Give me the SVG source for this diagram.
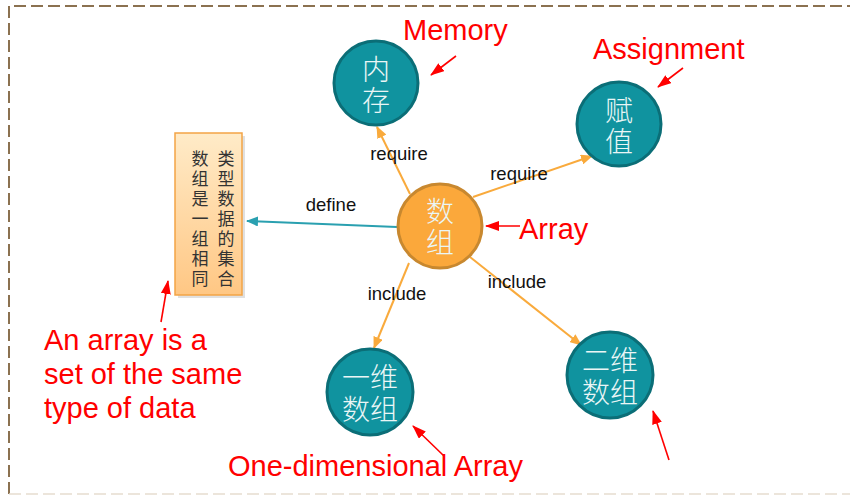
<svg xmlns="http://www.w3.org/2000/svg" width="850" height="497" viewBox="0 0 850 497">
<style>
.teal{fill:#10939F;stroke:#0B6E77;stroke-width:3}
.orange{fill:#FBA83B;stroke:#C8882F;stroke-width:3}
.cn{font-family:"Noto Sans CJK SC",sans-serif;font-size:28px;fill:#EAF6F6;text-anchor:middle;font-weight:300}
.rt{font-family:"Noto Sans CJK SC",sans-serif;font-size:17px;fill:#333;text-anchor:middle}
.lbl{font-family:"Liberation Sans",Arial,sans-serif;font-size:18.5px;fill:#111;text-anchor:middle}
.ann{font-family:"Liberation Sans",Arial,sans-serif;font-size:29px;fill:#FF0000}
.oc{stroke:#F9AA3C;stroke-width:2;fill:none}
.tc{stroke:#2AA0B0;stroke-width:2;fill:none}
.rc{stroke:#FF0000;stroke-width:1.6;fill:none}
</style>
<defs>
<marker id="ao" viewBox="0 0 12 10" refX="11" refY="5" markerWidth="12" markerHeight="10" markerUnits="userSpaceOnUse" orient="auto"><path d="M0,0L12,5L0,10z" fill="#F9AA3C"/></marker>
<marker id="at" viewBox="0 0 12 10" refX="11" refY="5" markerWidth="12" markerHeight="10" markerUnits="userSpaceOnUse" orient="auto"><path d="M0,0L12,5L0,10z" fill="#2AA0B0"/></marker>
<marker id="ar" viewBox="0 0 14 10" refX="13" refY="5" markerWidth="14" markerHeight="10" markerUnits="userSpaceOnUse" orient="auto"><path d="M0,0L14,5L0,10z" fill="#FF0000"/></marker>
<linearGradient id="rg" x1="0" y1="0" x2="0" y2="1"><stop offset="0" stop-color="#FFEBC8"/><stop offset="1" stop-color="#FFC784"/></linearGradient>
</defs>
<rect width="850" height="497" fill="#fff"/>
<path d="M9,494 L9,6 L860,6" fill="none" stroke="#8B7150" stroke-width="2" stroke-dasharray="12,5"/>
<path d="M9,494 L860,494" fill="none" stroke="#E6DDD0" stroke-width="1.5" stroke-dasharray="12,5"/>
<g id="connectors">
<line class="tc" x1="397" y1="227" x2="247" y2="221" marker-end="url(#at)"/>
<line class="oc" x1="410" y1="194" x2="377" y2="127" marker-end="url(#ao)"/>
<line class="oc" x1="473" y1="197" x2="592" y2="156" marker-end="url(#ao)"/>
<line class="oc" x1="409" y1="263" x2="374" y2="348" marker-end="url(#ao)"/>
<line class="oc" x1="470" y1="257" x2="581" y2="345" marker-end="url(#ao)"/>
<text class="lbl" x="331" y="211">define</text>
<text class="lbl" x="399" y="160">require</text>
<text class="lbl" x="519" y="180">require</text>
<text class="lbl" x="397" y="300">include</text>
<text class="lbl" x="517" y="288">include</text>
</g>
<g id="node-def">
<rect x="178" y="136" width="67" height="162" fill="#000" opacity="0.12"/>
<rect x="175" y="133" width="67" height="162" fill="url(#rg)" stroke="#F3A445" stroke-width="1.5"/>
<text class="rt" x="226" y="165">类</text><text class="rt" x="226" y="185">型</text><text class="rt" x="226" y="205">数</text><text class="rt" x="226" y="225">据</text><text class="rt" x="226" y="245">的</text><text class="rt" x="226" y="265">集</text><text class="rt" x="226" y="285">合</text>
<text class="rt" x="200" y="165">数</text><text class="rt" x="200" y="185">组</text><text class="rt" x="200" y="205">是</text><text class="rt" x="200" y="225">一</text><text class="rt" x="200" y="245">组</text><text class="rt" x="200" y="265">相</text><text class="rt" x="200" y="285">同</text>
</g>
<g id="node-memory">
<circle class="teal" cx="376" cy="83" r="42"/>
<text class="cn" x="376" y="80">内</text>
<text class="cn" x="376" y="111">存</text>
</g>
<g id="node-assign">
<circle class="teal" cx="619" cy="124" r="42"/>
<text class="cn" x="619" y="121">赋</text>
<text class="cn" x="619" y="152">值</text>
</g>
<g id="node-array">
<circle class="orange" cx="440" cy="226" r="42"/>
<text class="cn" x="440" y="222">数</text>
<text class="cn" x="440" y="253">组</text>
</g>
<g id="node-1d">
<circle class="teal" cx="370" cy="392" r="43"/>
<text class="cn" x="370" y="388">一维</text>
<text class="cn" x="370" y="420">数组</text>
</g>
<g id="node-2d">
<circle class="teal" cx="610" cy="375" r="43"/>
<text class="cn" x="610" y="371">二维</text>
<text class="cn" x="610" y="403">数组</text>
</g>
<g id="annotations">
<text class="ann" x="403" y="40">Memory</text>
<line class="rc" x1="456" y1="56" x2="431" y2="75" marker-end="url(#ar)"/>
<text class="ann" x="593" y="59">Assignment</text>
<line class="rc" x1="683" y1="68" x2="658" y2="87" marker-end="url(#ar)"/>
<text class="ann" x="519" y="239">Array</text>
<line class="rc" x1="520" y1="226" x2="486" y2="226" marker-end="url(#ar)"/>
<text class="ann" x="44" y="350">An array is a</text>
<text class="ann" x="44" y="384">set of the same</text>
<text class="ann" x="44" y="418">type of data</text>
<line class="rc" x1="161" y1="322" x2="168" y2="281" marker-end="url(#ar)"/>
<text class="ann" x="228" y="476">One-dimensional Array</text>
<line class="rc" x1="444" y1="456" x2="413" y2="426" marker-end="url(#ar)"/>
<line class="rc" x1="669" y1="460" x2="653" y2="411" marker-end="url(#ar)"/>
</g>
</svg>
